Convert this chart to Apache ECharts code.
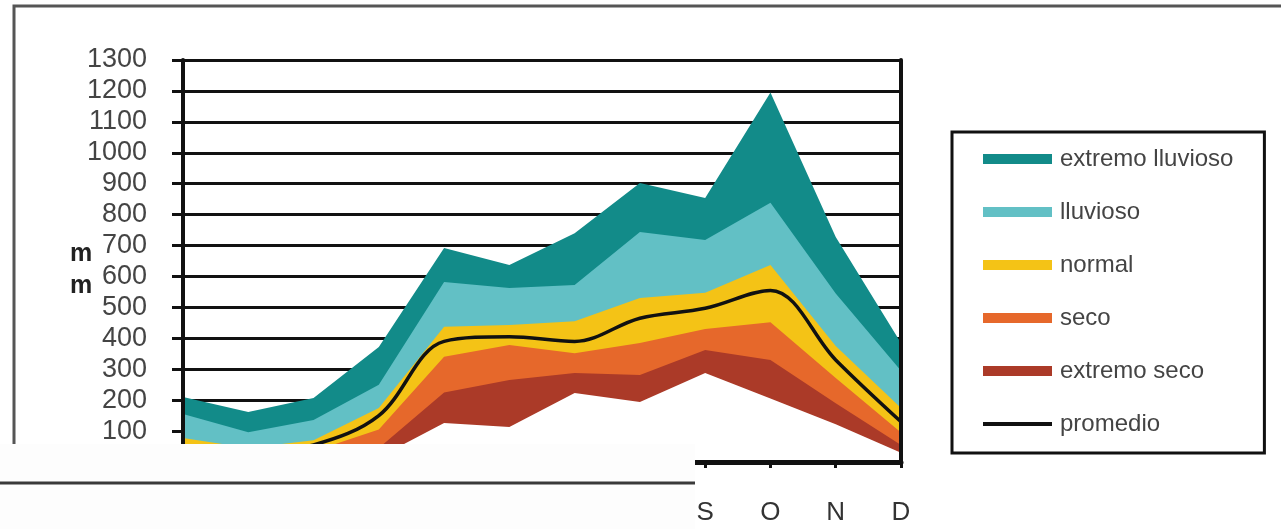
<!DOCTYPE html>
<html>
<head>
<meta charset="utf-8">
<title>precipitacion</title>
<script src="https://cdn.jsdelivr.net/npm/echarts@6/dist/echarts.min.js"></script>
<style>
  html, body { margin: 0; padding: 0; background: #fff; }
  #chart { width: 1281px; height: 529px; }
</style>
</head>
<body>
<div id="chart"></div>
<script>
// meses (E..D), solo S O N D quedan visibles
var months = ["E", "F", "M", "A", "M", "J", "J", "A", "S", "O", "N", "D"];
// limites superiores de cada banda, mm
var extremoLluvioso = [210, 162, 207, 372, 692, 637, 740, 902, 854, 1195, 728, 385];
var lluvioso = [155, 96, 136, 250, 582, 563, 572, 744, 718, 838, 545, 295];
var normal = [78, 45, 70, 175, 437, 443, 455, 530, 547, 637, 375, 175];
var seco = [30, 20, 35, 105, 340, 378, 352, 385, 430, 452, 272, 95];
var extremoSeco = [15, 5, 15, 45, 225, 265, 288, 281, 362, 330, 190, 55];
// limite inferior de extremo seco (debajo: blanco)
var base = [0, 0, 5, 15, 126, 113, 223, 194, 288, 205, 122, 30];
var promedio = [40, 30, 55, 150, 390, 405, 390, 465, 497, 555, 330, 130];

var font = "Liberation Sans";
var chart = echarts.init(document.getElementById("chart"));

function band(name, data, color) {
  return {
    name: name,
    type: "line",
    data: data,
    color: color,
    symbol: "none",
    silent: true,
    lineStyle: { width: 0 },
    areaStyle: { color: color, opacity: 1 },
    z: 2,
  };
}

var series = [
  band("extremo lluvioso", extremoLluvioso, "#128b89"),
  band("lluvioso", lluvioso, "#62c0c5"),
  band("normal", normal, "#f4c316"),
  band("seco", seco, "#e6682b"),
  band("extremo seco", extremoSeco, "#ab3a28"),
  band("base", base, "#ffffff"),
  {
    name: "promedio",
    type: "line",
    data: promedio,
    color: "#111",
    symbol: "none",
    smooth: 0.35,
    lineStyle: { width: 3.5, color: "#111" },
    z: 3,
  },
];

var option = {
  animation: false,
  backgroundColor: "#fff",
  textStyle: { fontFamily: font },
  grid: { left: 183, right: 380, top: 60, bottom: 67 },
  legend: {
    orient: "vertical",
    left: 952,
    top: 132,
    padding: [15, 31, 17, 31],
    borderColor: "#111",
    borderWidth: 3,
    itemWidth: 69,
    itemHeight: 10,
    itemGap: 29,
    icon: "rect",
    itemStyle: { borderWidth: 0 },
    selectedMode: false,
    textStyle: { fontFamily: font, fontSize: 24, lineHeight: 24, color: "#444", padding: [0, 0, 0, 3] },
    data: [
      { name: "extremo lluvioso" },
      { name: "lluvioso" },
      { name: "normal" },
      { name: "seco" },
      { name: "extremo seco" },
      { name: "promedio", icon: "path://M0,0 L69,0 L69,4 L0,4 Z" },
    ],
  },
  xAxis: [
    {
      type: "category",
      data: months,
      boundaryGap: false,
      z: 5,
      axisLine: { lineStyle: { color: "#111", width: 4 } },
      axisTick: { show: true, length: 6, interval: 0, lineStyle: { color: "#111", width: 3 } },
      axisLabel: { interval: 0, fontSize: 26, color: "#333", margin: 38, fontFamily: font },
      splitLine: { show: false },
    },
    {
      type: "category",
      data: months,
      position: "top",
      boundaryGap: false,
      z: 5,
      axisLine: { lineStyle: { color: "#111", width: 5 } },
      axisTick: { show: false },
      axisLabel: { show: false },
    },
  ],
  yAxis: [
    {
      // lineas de division, debajo de las bandas
      type: "value",
      min: 0,
      max: 1300,
      interval: 100,
      z: 0,
      axisLine: { show: false },
      axisTick: { show: false },
      axisLabel: { show: false },
      splitLine: { lineStyle: { color: "#111", width: 3 } },
    },
    {
      type: "value",
      position: "left",
      min: 0,
      max: 1300,
      interval: 100,
      z: 5,
      axisLine: { show: true, lineStyle: { color: "#111", width: 4 } },
      axisTick: { show: true, length: 11, lineStyle: { color: "#111", width: 3 } },
      axisLabel: {
        fontSize: 27,
        color: "#444",
        margin: 36,
        fontFamily: font,
        formatter: function (v) {
          return String(v);
        },
      },
      splitLine: { show: false },
    },
    {
      type: "value",
      position: "right",
      min: 0,
      max: 1300,
      interval: 100,
      z: 5,
      axisLine: { show: true, lineStyle: { color: "#111", width: 4 } },
      axisTick: { show: false },
      axisLabel: { show: false },
      splitLine: { show: false },
    },
  ],
  graphic: [
    {
      type: "polyline",
      z: 50,
      shape: { points: [[14, 444], [14, 6], [1281, 6]] },
      style: { stroke: "#555", lineWidth: 3, fill: null },
    },
    {
      type: "text",
      z: 50,
      left: 70,
      top: 242,
      style: { text: "m", font: "bold 25px " + font, fill: "#222" },
    },
    {
      type: "text",
      z: 50,
      left: 70,
      top: 274,
      style: { text: "m", font: "bold 25px " + font, fill: "#222" },
    },
    {
      type: "rect",
      z: 100,
      shape: { x: 0, y: 444, width: 695, height: 85 },
      style: { fill: "#fdfdfd" },
    },
    {
      type: "line",
      z: 101,
      shape: { x1: 0, y1: 483, x2: 695, y2: 483 },
      style: { stroke: "#3a3a3a", lineWidth: 3 },
    },
  ],
  series: series,
};

chart.setOption(option);
</script>
</body>
</html>
